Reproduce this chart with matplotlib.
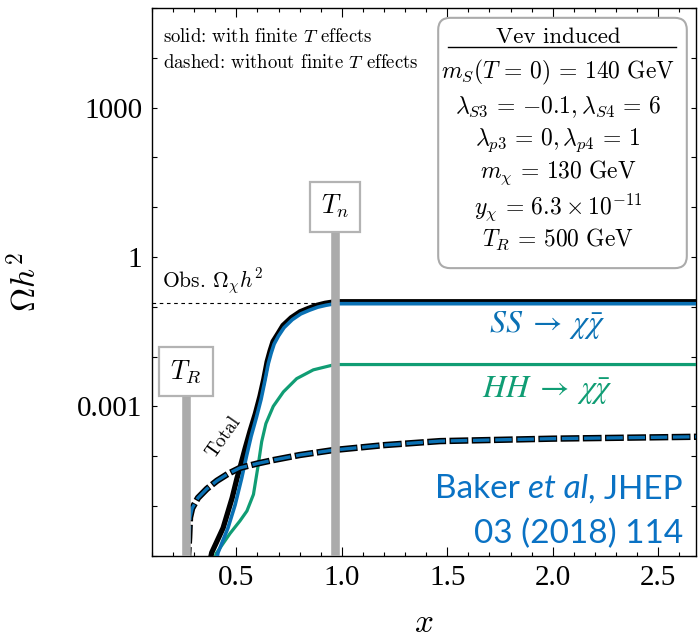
import matplotlib
matplotlib.use('Agg')
import matplotlib.pyplot as plt
from matplotlib.patches import FancyBboxPatch
from matplotlib.ticker import FixedLocator, MultipleLocator, FuncFormatter, NullLocator

plt.rcParams['font.family'] = 'Liberation Serif'
plt.rcParams['mathtext.fontset'] = 'cm'
plt.rcParams['lines.scale_dashes'] = False
plt.rcParams['axes.unicode_minus'] = False

# x = m_chi / T, values are Omega h^2
x_total = [0.37, 0.383, 0.437, 0.480, 0.503, 0.517, 0.541, 0.565, 0.59, 0.612, 0.63, 0.646,
           0.66, 0.674, 0.70, 0.721, 0.76, 0.802, 0.843, 0.883, 0.92, 0.967, 2.7]
om_total = [6.3e-7, 1.15e-6, 3.6e-6, 1.45e-5, 3.6e-5, 5.8e-5, 1.4e-4, 3.2e-4, 7.1e-4, 1.6e-3,
            3.5e-3, 7.9e-3, 0.013, 0.020, 0.030, 0.042, 0.060, 0.079, 0.093, 0.107, 0.117,
            0.126, 0.126]

x_ss = [0.40, 0.413, 0.46, 0.494, 0.525, 0.548, 0.57, 0.595, 0.617, 0.635, 0.651, 0.665,
        0.679, 0.70, 0.726, 0.765, 0.806, 0.846, 0.886, 0.925, 0.967, 2.7]
om_ss = [6.3e-7, 1.15e-6, 3.6e-6, 1.05e-5, 3.6e-5, 1.0e-4, 2.5e-4, 6.0e-4, 1.38e-3, 3.2e-3,
         7.1e-3, 0.0117, 0.0178, 0.026, 0.038, 0.055, 0.072, 0.085, 0.098, 0.107, 0.115, 0.115]

x_hh = [0.39, 0.404, 0.47, 0.517, 0.55, 0.581, 0.604, 0.620, 0.640, 0.675, 0.723, 0.786,
        0.865, 0.967, 2.7]
om_hh = [6.3e-7, 1.1e-6, 2.8e-6, 5.0e-6, 7.9e-6, 1.7e-5, 6.8e-5, 1.95e-4, 4.5e-4, 1.0e-3,
         1.95e-3, 3.6e-3, 5.4e-3, 6.9e-3, 6.9e-3]

# without finite T effects
x_nt = [0.268, 0.276, 0.28, 0.29, 0.318, 0.36, 0.408, 0.46, 0.517, 0.6, 0.674, 0.8, 0.959,
        1.2, 1.466, 2.0, 2.7]
om_nt = [6.3e-7, 2.3e-6, 5.8e-6, 8.9e-6, 1.45e-5, 2.2e-5, 3.2e-5, 4.4e-5, 5.8e-5, 7.1e-5,
         8.3e-5, 1.05e-4, 1.32e-4, 1.66e-4, 2.0e-4, 2.24e-4, 2.45e-4]

obs = 0.12
x_TR = 0.26
x_Tn = 0.967

params = [r'$m_S(T\,=\,0)\,=\,140\ \mathrm{GeV}$',
          r'$\lambda_{S3}\,=\,{-0.1}, \lambda_{S4}\,=\,6$',
          r'$\lambda_{p3}\,=\,0, \lambda_{p4}\,=\,1$',
          r'$m_\chi\,=\,130\ \mathrm{GeV}$',
          r'$y_\chi\,=\,6.3 \times 10^{-11}$',
          r'$T_R\,=\,500\ \mathrm{GeV}$']

blue = '#0A71B4'
green = '#109D74'
gray = '#ABABAB'
cite = '#0A72C4'

fig = plt.figure(figsize=(6.99, 6.43), dpi=100)
ax = fig.add_axes([0.2175, 0.1358, 0.7783, 0.8518])
ax.set_yscale('log')
ax.set_xlim(0.1, 2.68)
ax.set_ylim(1e-6, 1e5)

# observed relic density
ax.plot([0.1, x_Tn], [obs, obs], color='k', lw=0.8, ls=(0, (2.6, 2.6)), zorder=2)
ax.text(0.147, 0.32, r'Obs. $\Omega_\chi h^2$', family='cmr10', fontsize=15.5, va='center')

# solid curves
ax.plot(x_total, om_total, color='k', lw=3.8, solid_capstyle='butt', zorder=3)
ax.plot(x_ss, om_ss, color=blue, lw=2.6, solid_capstyle='butt', zorder=4)
ax.plot(x_hh, om_hh, color=green, lw=2.3, zorder=3)

# dashed curve: black outline then blue inside
ax.plot(x_nt, om_nt, color='k', lw=4.6, ls=(0, (13.5, 2.5)), zorder=5)
ax.plot(x_nt, om_nt, color=blue, lw=2.4, ls=(15.1, (11.9, 4.1)), zorder=5)

# temperature markers
ax.vlines([x_TR], 1e-7, 0.0049, color=gray, lw=6.2, zorder=6)
ax.vlines([x_Tn], 1e-7, 10.2, color=gray, lw=6.2, zorder=6)
box = dict(boxstyle='square,pad=0.42', fc='white', ec='#B3B3B3', lw=1.6)
ax.text(x_TR, 0.0049, r'$T_R$', fontsize=19, ha='center', va='center', bbox=box, zorder=7)
ax.text(x_Tn, 10.2, r'$T_n$', fontsize=19, ha='center', va='center', bbox=box, zorder=7)

ax.text(0.438, 2.4e-4, 'Total', family='cmr10', fontsize=14, rotation=55,
        ha='center', va='center', zorder=6)

ax.text(1.975, 0.042, r'$SS \;\rightarrow\; \chi\bar{\chi}$', color=blue, fontsize=23,
        ha='center', va='center', math_fontfamily='stix')
ax.text(1.975, 0.0021, r'$HH \;\rightarrow\; \chi\bar{\chi}$', color=green, fontsize=23,
        ha='center', va='center', math_fontfamily='stix')

# citation
t1 = ax.text(0.976, 0.105, ', JHEP', transform=ax.transAxes, family='Lato', fontsize=24,
             color=cite, ha='right', va='baseline')
t2 = ax.annotate('et al', xy=(0, 0), xycoords=t1, family='Lato', style='italic', fontsize=24,
                 color=cite, ha='right', va='bottom')
ax.annotate('Baker ', xy=(0, 0), xycoords=t2, family='Lato', fontsize=24,
            color=cite, ha='right', va='bottom')
ax.text(0.976, 0.023, '03 (2018) 114', transform=ax.transAxes, family='Lato', fontsize=24,
        color=cite, ha='right', va='baseline')

# line style note
ax.text(0.02, 0.947, r'solid: with finite $T$ effects', family='cmr10', fontsize=13.5,
        transform=ax.transAxes, va='center')
ax.text(0.02, 0.90, r'dashed: without finite $T$ effects', family='cmr10', fontsize=13.5,
        transform=ax.transAxes, va='center')

# parameter box
ax.add_patch(FancyBboxPatch((0.526, 0.525), 0.457, 0.457, transform=ax.transAxes,
                            boxstyle='round,pad=0,rounding_size=0.022',
                            fc='white', ec='#ABABAB', lw=1.5, zorder=8))
ax.text(0.746, 0.947, 'Vev induced', family='cmr10', fontsize=16.5, ha='center', va='center',
        transform=ax.transAxes, zorder=9)
ax.plot([0.544, 0.963], [0.929, 0.929], color='k', lw=1.0, transform=ax.transAxes,
        clip_on=False, zorder=9)
ys = [0.883, 0.8195, 0.759, 0.699, 0.637, 0.577]
for s, yy in zip(params, ys):
    ax.text(0.746, yy, s, fontsize=17, ha='center', va='center', transform=ax.transAxes,
            zorder=9)

# axes and ticks
ax.yaxis.set_major_locator(FixedLocator([10.0 ** k for k in range(-6, 6)]))
ax.yaxis.set_minor_locator(NullLocator())
labels = {1000.0: '1000', 1.0: '1', 0.001: '0.001'}
ax.yaxis.set_major_formatter(FuncFormatter(
    lambda v, p: next((t for k, t in labels.items() if abs(v / k - 1) < 1e-6), '')))
ax.xaxis.set_major_locator(MultipleLocator(0.5))
ax.xaxis.set_minor_locator(MultipleLocator(0.1))
ax.xaxis.set_major_formatter(FuncFormatter(lambda v, p: '%.1f' % v))
ax.tick_params(which='both', direction='in', top=True, right=True, labelsize=21, width=0.8)
ax.tick_params(axis='x', which='major', length=6.5, pad=7)
ax.tick_params(axis='x', which='minor', length=3)
ax.tick_params(axis='y', which='major', length=3.5, pad=7)
for sp in ax.spines.values():
    sp.set_linewidth(1.0)

ax.set_xlabel(r'$x$', fontsize=24, labelpad=12)
ax.set_ylabel(r'$\Omega h^2$', fontsize=24, labelpad=24)

fig.savefig('out.png', dpi=100)
